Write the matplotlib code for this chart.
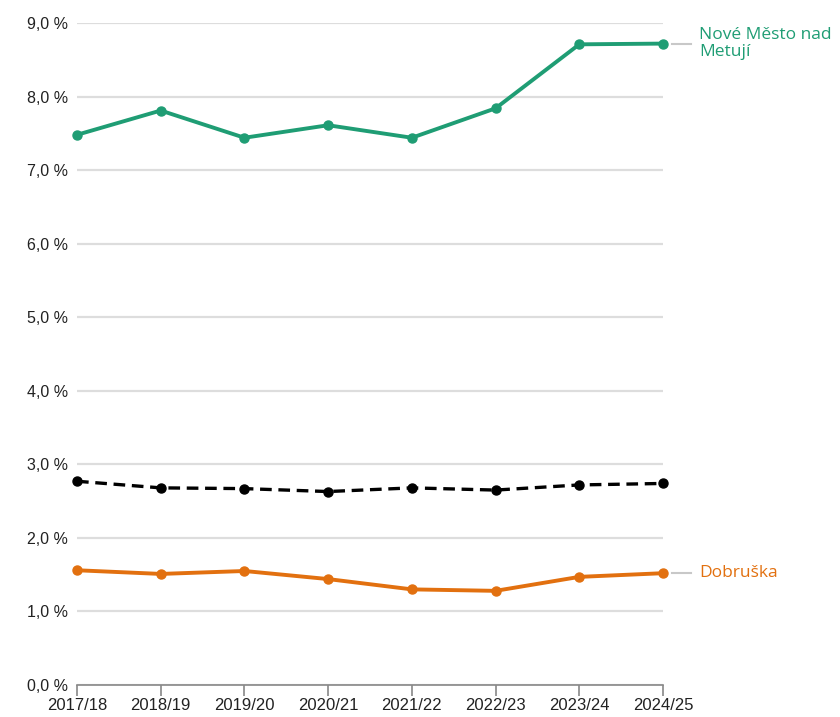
import matplotlib
matplotlib.use("Agg")
from matplotlib import pyplot as plt
from matplotlib.ticker import FuncFormatter

# data
years = ["2017/18", "2018/19", "2019/20", "2020/21", "2021/22", "2022/23", "2023/24", "2024/25"]
nove_mesto = [7.48, 7.81, 7.44, 7.61, 7.44, 7.84, 8.71, 8.72]
prumer = [2.77, 2.68, 2.67, 2.63, 2.68, 2.65, 2.72, 2.74]
dobruska = [1.56, 1.51, 1.55, 1.44, 1.30, 1.28, 1.47, 1.52]

green = "#1f9d74"
orange = "#e2700f"

fig = plt.figure(figsize=(8.4, 7.17), dpi=100)
ax = fig.add_axes([77 / 840, 32 / 717, 586 / 840, 662 / 717])

x = list(range(len(years)))
ax.plot(x, nove_mesto, color=green, lw=2.8, marker="o", ms=6.5, clip_on=False, zorder=3)
ax.plot(x, prumer, color="black", lw=2.4, ls=(0, (3.5, 2)), marker="o", ms=6.5, clip_on=False, zorder=3)
ax.plot(x, dobruska, color=orange, lw=2.8, marker="o", ms=6.5, clip_on=False, zorder=3)

ax.set_xlim(0, len(years) - 1)
ax.set_ylim(0, 9)
ax.set_yticks(range(0, 10))
ax.yaxis.set_major_formatter(FuncFormatter(lambda v, p: f"{v:.1f} %".replace(".", ",")))
ax.set_xticks(x)
ax.set_xticklabels(years)

ax.grid(axis="y", color="#dddddd", lw=1.6)
ax.set_axisbelow(True)
for s in ["top", "right", "left"]:
    ax.spines[s].set_visible(False)
ax.spines["bottom"].set_color("#888888")
ax.spines["bottom"].set_linewidth(1.2)
ax.tick_params(axis="y", length=0, pad=6.5, labelsize=11.5, labelcolor="#222222")
ax.tick_params(axis="x", length=8, width=1.2, color="#888888", pad=1, labelsize=12, labelcolor="#222222")
for t in ax.get_xticklabels() + ax.get_yticklabels():
    t.set_fontfamily("Liberation Sans")

# popisky na konci čar
last = len(years) - 1
for vals, label, col in [(nove_mesto, "Nové Město nad\nMetují", green), (dobruska, "Dobruška", orange)]:
    ax.plot([last + 0.11, last + 0.33], [vals[-1], vals[-1]], color="#c8c8c8", lw=1.5, clip_on=False)
    ax.annotate(label, xy=(last, vals[-1]), xytext=(26, 0), textcoords="offset points",
                ha="left", va="center", color=col, fontsize=12.5,
                fontfamily="Open Sans", annotation_clip=False, linespacing=1.1)

fig.savefig("out.png", dpi=100)
